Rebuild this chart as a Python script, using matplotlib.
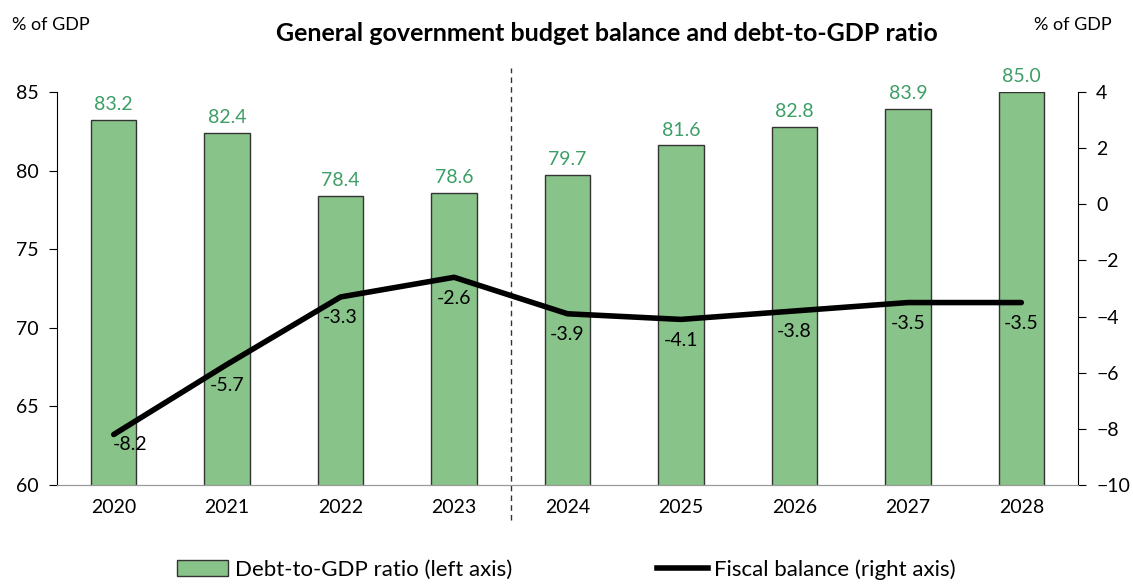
import matplotlib.pyplot as plt
from matplotlib.patches import Patch
from matplotlib.lines import Line2D

plt.rcParams['font.family'] = ['Lato', 'DejaVu Sans']

years = ["2020", "2021", "2022", "2023", "2024", "2025", "2026", "2027", "2028"]
debt = [83.2, 82.4, 78.4, 78.6, 79.7, 81.6, 82.8, 83.9, 85.0]
balance = [-8.2, -5.7, -3.3, -2.6, -3.9, -4.1, -3.8, -3.5, -3.5]

bar_color = "#88c48a"
label_green = "#3d9e66"

fig = plt.figure(figsize=(11.33, 5.85), dpi=100)
ax = fig.add_axes([0.0503, 0.1709, 0.9012, 0.6718])
ax2 = ax.twinx()

x = list(range(len(years)))
ax.bar(x, debt, width=0.4, color=bar_color, edgecolor="#333333", linewidth=1)
for xi, v in zip(x, debt):
    ax.annotate(f"{v:.1f}", (xi, v), xytext=(0, 5), textcoords="offset points",
                ha="center", va="bottom", color=label_green, fontsize=14)

ax.set_xlim(-0.5, len(years) - 0.5)
ax.set_ylim(60, 85)
ax.set_yticks([60, 65, 70, 75, 80, 85])
ax.set_xticks(x)
ax.set_xticklabels(years)
ax.tick_params(axis="x", length=0, pad=10, labelsize=14)
ax.tick_params(axis="y", direction="out", length=6, labelsize=14, pad=7)

ax2.plot(x, balance, color="black", linewidth=4, solid_capstyle="round", zorder=5)
ax2.set_ylim(-10, 4)
ax2.set_yticks(range(-10, 5, 2))
ax2.tick_params(axis="y", direction="out", length=6, labelsize=14, pad=7)
for i, (xi, v) in enumerate(zip(x, balance)):
    dx, dy = (12, -1) if i == 0 else (0, -9)
    ax2.annotate(f"{v:.1f}", (xi, v), xytext=(dx, dy), textcoords="offset points",
                 ha="center", va="top", color="black", fontsize=14, zorder=6)

for a in (ax, ax2):
    a.spines["top"].set_visible(False)
    a.spines["bottom"].set_color("#9a9a9a")
    a.spines["left"].set_color("black")
    a.spines["right"].set_color("black")
ax.spines["right"].set_visible(False)
ax2.spines["left"].set_visible(False)

# forecast divider
ax.plot([3.5, 3.5], [-0.09, 1.06], transform=ax.get_xaxis_transform(),
        color="#333333", linestyle=(0, (4, 3)), linewidth=1, clip_on=False)

fig.text(0.536, 0.943, "General government budget balance and debt-to-GDP ratio",
         ha="center", va="center", fontsize=18, fontweight="bold")
fig.text(0.011, 0.957, "% of GDP", ha="left", va="center", fontsize=13)
fig.text(0.913, 0.957, "% of GDP", ha="left", va="center", fontsize=13)

handles = [Patch(facecolor=bar_color, edgecolor="#333333", label="Debt-to-GDP ratio (left axis)"),
           Line2D([0], [0], color="black", linewidth=4, label="Fiscal balance (right axis)")]
fig.legend(handles=handles, loc="center", bbox_to_anchor=(0.5, 0.027), ncol=2,
           frameon=False, fontsize=16, columnspacing=6.5, handlelength=2.3,
           handletextpad=0.3)

fig.savefig("out.png", dpi=100)
